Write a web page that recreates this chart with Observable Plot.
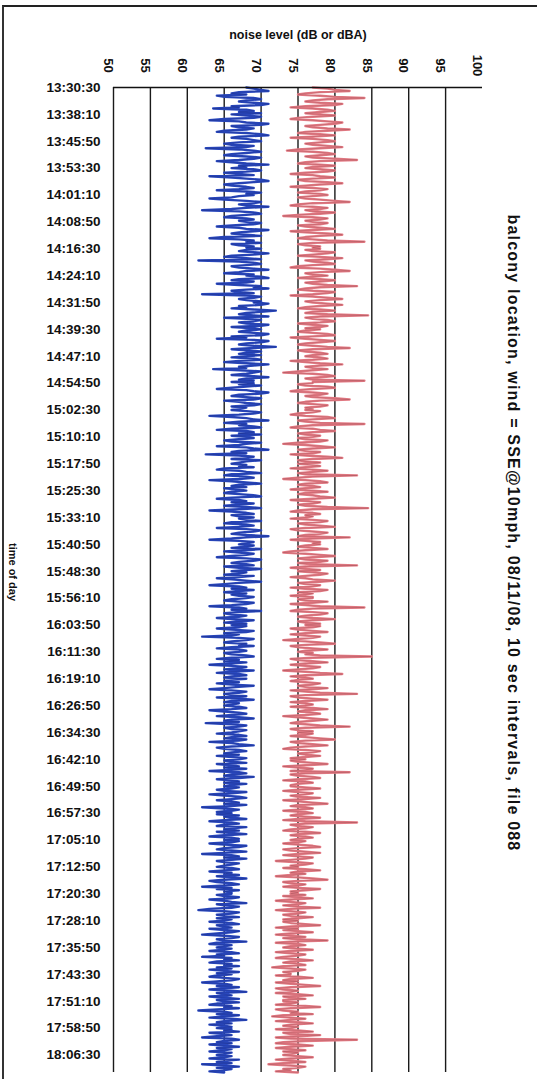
<!DOCTYPE html>
<html>
<head>
<meta charset="utf-8">
<script src="https://cdn.jsdelivr.net/npm/d3@7"></script>
<script src="https://cdn.jsdelivr.net/npm/@observablehq/plot@0.6"></script>
<style>
  html, body { margin: 0; padding: 0; background: #fff; }
  #wrap { position: relative; width: 537px; height: 1079px; overflow: hidden; }
  #edge { position: absolute; top: 5px; left: 2px; right: 0; bottom: 0;
          border-top: 2px solid #222; border-left: 2px solid #333; pointer-events: none; }
</style>
</head>
<body>
<div id="wrap"><div id="edge"></div></div>
<script>
// ---- data -------------------------------------------------------------
const startTime = "13:30:30";
const stepSeconds = 20;
const xTicks = [50, 55, 60, 65, 70, 75, 80, 85, 90, 95, 100];
const gridValues = [50, 55, 60, 65, 70, 75, 80, 85, 90, 95];
const timeLabels = ["13:30:30","13:38:10","13:45:50","13:53:30","14:01:10","14:08:50","14:16:30","14:24:10",
  "14:31:50","14:39:30","14:47:10","14:54:50","15:02:30","15:10:10","15:17:50","15:25:30","15:33:10",
  "15:40:50","15:48:30","15:56:10","16:03:50","16:11:30","16:19:10","16:26:50","16:34:30","16:42:10",
  "16:49:50","16:57:30","17:05:10","17:12:50","17:20:30","17:28:10","17:35:50","17:43:30","17:51:10",
  "17:58:50","18:06:30"];
const titleText = "noise level (dB or dBA)";
const yTitle = "time of day";
const noteText = "balcony location, wind = SSE@10mph, 08/11/08, 10 sec intervals, file 088";

// A-weighted level (blue), one row per 23 readings (one label interval)
const dBA = [
68,69,70,71,67,66,68,64,65,69,70,68,67,69,71,70,66,67,63.5,68,69,67,70,
66,68,70,69,65,63,67,68,71,70,66,67,69,68,65,64,68,70,71,67,66,68,69,
70,67,65,66,69,68,62.5,67,69,70,68,66,65,68,70,69,67,64,66,68,71,67,68,
66,69,70,68,65,67,69,63,66,68,70,71,69,67,65,66,68,69,67,64,68,70,68,
69,67,66,63,65,68,70,69,67,68,71,68,66,62,67,69,70,68,66,65,68,69,67,
68,70,69,66,64,67,68,71,69,67,66,68,70,65,63,67,69,68,70,66,67,69,68,
70,68,67,69,71,69,66,65,68,70,61.5,67,69,70,68,66,67,69,71,68,67,65,69,
68,70,71,67,66,69,68,64,67,70,69,71,68,66,67,69,62,68,70,69,67,68,70,
69,71,70,67,68,66,69,72,70,68,67,69,71,65,68,70,69,67,68,71,70,66,69,
70,68,67,69,71,70,66,68,64,69,71,70,68,67,69,72,69,66,68,70,68,67,70,
68,66,69,70,67,65,68,71,69,67,68,63.5,67,70,69,68,66,69,71,68,67,69,66,
69,67,70,68,66,64,68,69,71,70,67,66,68,70,69,65,67,68,70,69,66,68,67,
66,68,70,69,67,63,66,68,69,71,67,65,68,67,69,70,66,64,68,69,67,70,66,
68,69,67,65,66,70,68,67,64,68,69,71,67,66,68,62.5,67,69,68,66,70,68,67,
66,68,67,69,65,64,67,68,70,66,65,68,69,67,63,66,68,70,67,66,68,65,67,
68,66,65,67,69,70,66,64,67,68,66,69,67,65,68,70,67,63,66,68,69,66,67,
69,67,68,70,66,65,68,69,67,64,68,70,69,67,66,68,71,68,66,63,67,69,68,
67,69,68,66,70,68,65,67,69,68,66,64,68,70,69,67,66,68,69,65,67,70,68,
66,68,67,65,69,67,64,66,68,70,67,65,63,67,68,66,69,67,65,68,66,67,69,
68,66,65,67,69,68,66,63,67,68,66,70,67,65,66,68,67,64,66,69,67,65,68,
66,68,67,64,66,69,68,65,67,66,62,67,69,68,66,65,68,67,69,66,64,67,68,
67,65,66,68,69,66,64,67,65,68,66,63,66,68,67,65,69,66,64,67,68,66,65,
68,66,65,67,64,66,69,67,65,63,66,68,67,65,66,68,64,67,69,66,65,67,66,
65,67,68,66,63,65,67,68,66,64,67,69,66,65,67,62.5,66,68,67,65,66,68,67,
66,64,67,68,66,65,68,67,63,66,67,69,66,64,65,67,68,66,65,67,64,66,68,
67,65,66,68,64,66,67,65,68,66,63,67,68,66,65,69,67,64,66,67,65,68,66,
65,67,66,64,65,68,66,63,65,67,68,66,64,66,67,65,68,66,62,65,67,66,64,
66,64,67,65,66,68,65,63,66,67,65,64,68,66,65,67,64,66,68,65,63,66,67,
65,67,66,63,65,68,67,65,64,66,68,65,62,66,67,65,68,66,64,65,67,66,65,
64,66,67,65,63,66,65,67,64,66,68,65,63,64,66,67,65,62,66,64,67,65,66,
66,64,65,67,66,63,65,66,68,64,65,67,66,63,61.5,65,67,66,64,65,67,64,66,
65,63,66,67,64,65,66,63,65,67,66,64,62,65,67,66,64,65,68,64,63,66,65,
64,66,65,63,66,67,64,65,62,66,65,67,64,63,66,65,67,64,66,63,65,67,64,
66,64,63,65,67,66,64,62,65,66,64,67,65,63,66,68,64,65,66,63,65,67,64,
65,67,64,63,66,65,67,64,61.5,65,66,64,67,65,63,66,68,65,64,66,63,65,66,
64,66,65,67,63,65,66,64,62,66,67,65,64,66,63,65,67,64,66,65,63,66,65,
64,66,65,63,67,65,64,66,62,65,67,64,66,65,63,65];

// unweighted level (pink)
const dB = [
77,79,80,82,78,76,75,78,80,84,79,77,76,78,81,80,76,74,77,79,80,78,76,
78,80,77,75,74,77,79,81,80,78,76,77,79,82,79,76,75,78,80,77,74,77,79,
80,78,76,77,79,81,78,75,73.5,77,79,80,78,76,77,80,83,78,76,75,78,80,77,
76,78,80,79,76,74,77,78,80,77,75,76,79,81,78,76,74,77,79,78,76,75,78,
79,77,75,76,78,80,82,77,75,74,77,79,78,76,77,80,78,75,73,77,79,78,76,
77,79,78,75,76,78,80,77,74,76,79,81,78,76,75,77,79,84,77,75,76,78,77,
78,76,77,80,79,77,75,78,81,79,76,77,79,80,77,75,74,78,80,82,78,76,77,
79,77,75,78,80,78,76,77,79,83,78,76,75,77,80,79,77,74,77,79,81,78,76,
77,79,81,78,76,75,78,80,77,76,79,84.5,78,76,77,79,80,78,75,77,79,78,76,
78,76,75,77,79,80,77,74,76,78,80,78,76,75,77,79,82,77,75,76,78,79,77,
76,78,79,77,74,76,78,81,78,76,77,79,77,75,73,77,79,80,78,76,77,84,77,
77,75,76,79,80,77,75,74,77,79,78,76,77,80,82,78,76,75,77,79,78,76,77,
76,78,77,75,74,76,79,80,77,75,76,78,84,77,75,74,77,78,80,77,75,76,78,
77,75,76,79,78,75,73,76,78,80,77,75,76,78,77,74,76,79,81,77,75,76,78,
75,77,78,76,74,77,79,77,75,76,83,77,75,73,76,78,79,76,75,77,78,76,74,
77,79,76,75,77,78,80,77,74,76,78,77,75,76,79,84.5,77,75,74,77,78,76,77,
76,74,77,79,78,75,76,78,80,76,74,75,77,79,78,76,75,82,77,74,76,78,77,
78,76,75,77,79,76,74,73,76,78,80,77,75,76,79,78,75,77,83,76,74,76,78,
75,77,79,78,76,74,76,77,80,78,75,76,78,77,74,76,79,78,75,77,76,74,77,
77,75,76,79,77,74,76,78,84,77,75,74,77,79,78,76,75,77,80,77,75,76,78,
76,78,77,74,75,77,79,76,74,76,78,77,75,73,76,78,80,76,74,75,77,79,76,
75,77,76,78,85,77,74,75,77,79,76,74,76,78,77,75,73,76,78,81,76,74,76,
77,75,74,76,78,77,75,76,79,77,74,76,78,83,76,74,75,77,79,76,74,76,77,
76,74,77,79,76,75,77,78,76,73,75,77,79,77,75,74,76,78,82,76,74,75,77,
75,77,76,74,76,78,80,76,74,75,77,79,76,74,73,76,78,77,75,76,78,76,74,
76,74,75,77,79,76,73,75,77,76,74,82,76,74,75,77,78,75,73,76,77,75,74,
74,76,78,75,73,75,77,76,74,75,78,76,73,75,77,79,75,74,76,77,75,73,76,
77,75,74,76,78,75,73,76,83,76,74,75,77,76,74,73,76,78,75,74,76,77,75,
74,76,75,73,75,77,78,75,73,74,76,78,75,73,75,77,76,74,72,75,77,76,74,
75,73,76,78,75,74,76,74,72,75,77,79,75,73,74,76,75,73,75,78,76,74,75,
74,76,73,75,77,74,72,74,76,75,73,75,78,74,72,74,76,75,73,74,77,75,73,
75,73,74,76,78,74,72,75,73,75,77,74,72,74,76,73,75,79,74,72,75,76,74,
73,75,77,74,72,74,76,75,73,72,75,77,74,73,75,76,73,71.5,74,76,75,73,74,
74,72,75,77,74,73,75,72,74,76,78,74,72,73,75,74,72,75,77,73,74,76,73,
73,75,74,72,76,78,74,72,73,75,74,77,73,71.5,74,76,74,72,75,77,74,73,75,
74,72,75,77,73,74,78,75,72,74,83,76,73,72,75,77,74,72,74,76,73,75,74,
73,75,77,74,72,74,76,73,71,74,76,75,73,74,72,75];

// ---- helpers ----------------------------------------------------------
const toSec = s => { const [h, m, x] = s.split(":").map(Number); return h * 3600 + m * 60 + x; };
const pad = n => String(n).padStart(2, "0");
const fmt = s => `${pad(Math.floor(s / 3600))}:${pad(Math.floor(s / 60) % 60)}:${pad(s % 60)}`;
const t0 = toSec(startTime);
const n = Math.min(dBA.length, dB.length);
const rows = d3.range(n).map(i => ({ t: t0 + i * stepSeconds, dBA: dBA[i], dB: dB[i] }));
const tEnd = rows[n - 1].t;
const labelSecs = timeLabels.map(toSec);

const bold = { fontWeight: "bold", fill: "#111" };

const chart = Plot.plot({
  width: 537,
  height: 1079,
  marginTop: 87,
  marginBottom: 7,
  marginLeft: 113,
  marginRight: 55,
  style: { fontFamily: "'Liberation Sans', Arial, sans-serif", background: "transparent", overflow: "visible" },
  x: { domain: [50, 100], axis: null },
  y: { domain: [t0, tEnd], reverse: true, axis: null },
  marks: [
    Plot.ruleX(gridValues, { stroke: "#1a1a1a", strokeWidth: 1.4 }),
    Plot.lineX(rows, { x: "dB", y: "t", stroke: "#e67c86", strokeWidth: 2.4 }),
    Plot.lineX(rows, { x: "dB", y: "t", stroke: "#3a1010", strokeWidth: 0.5, strokeOpacity: 0.3 }),
    Plot.lineX(rows, { x: "dBA", y: "t", stroke: "#2a49c0", strokeWidth: 2.4 }),
    Plot.lineX(rows, { x: "dBA", y: "t", stroke: "#0a0a30", strokeWidth: 0.5, strokeOpacity: 0.3 }),
    Plot.ruleY([t0], { stroke: "#111", strokeWidth: 1.5 }),
    Plot.text(xTicks, { x: d => d, frameAnchor: "top", dy: -22, rotate: 90, text: d => String(d), fontSize: 13, ...bold }),
    Plot.text(labelSecs, { y: d => d, frameAnchor: "left", dx: -13, textAnchor: "end", text: fmt, fontSize: 13.5, ...bold }),
    Plot.text([titleText], { frameAnchor: "top", dy: -57, fontSize: 12.5, ...bold }),
    Plot.text([yTitle], { frameAnchor: "left", dx: -101, dy: -8, rotate: 90, textAnchor: "middle", fontSize: 11, ...bold }),
    Plot.text([noteText], { frameAnchor: "right", dx: 31, dy: -47, rotate: 90, textAnchor: "middle", fontSize: 16, ...bold })
  ]
});
d3.select(chart).selectAll("text")
  .filter(function () { return this.textContent === noteText; })
  .style("letter-spacing", "1.2px");
document.getElementById("wrap").prepend(chart);
</script>
</body>
</html>
